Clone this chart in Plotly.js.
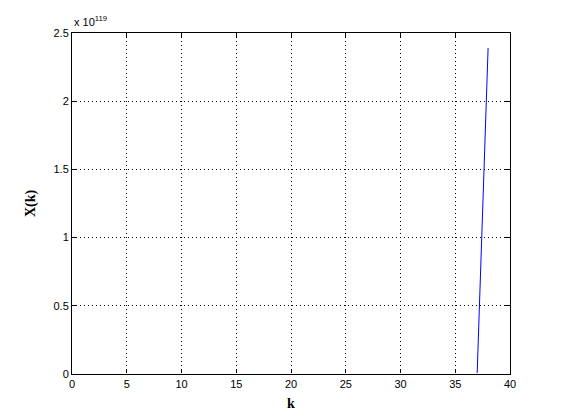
<!DOCTYPE html>
<html>
<head>
<meta charset="utf-8">
<script src="https://cdn.plot.ly/plotly-3.0.1.min.js"></script>
<style>
  html, body { margin: 0; padding: 0; background: #fff; }
  #chart { width: 561px; height: 420px; }
</style>
</head>
<body>
<div id="chart"></div>
<script>
// k index and X(k) values (everything before k=38 is ~0 at this scale)
const k = [0, 1, 2, 3, 4, 5, 6, 7, 8, 9, 10, 11, 12, 13, 14, 15, 16, 17, 18, 19,
           20, 21, 22, 23, 24, 25, 26, 27, 28, 29, 30, 31, 32, 33, 34, 35, 36, 37, 38];
const X = [0, 0, 0, 0, 0, 0, 0, 0, 0, 0, 0, 0, 0, 0, 0, 0, 0, 0, 0, 0,
           0, 0, 0, 0, 0, 0, 0, 0, 0, 0, 0, 0, 0, 0, 0, 0, 0, 0, 2.39e119];

const yTickVals = [0, 0.5e119, 1e119, 1.5e119, 2e119, 2.5e119];
const yTickText = ['0', '0.5', '1', '1.5', '2', '2.5'];
const xTickVals = [0, 5, 10, 15, 20, 25, 30, 35, 40];

const tickFont = { family: 'Liberation Sans, Arial, sans-serif', size: 11, color: '#000' };
const labelFont = { family: 'Liberation Serif, Times New Roman, serif', size: 14, color: '#000', weight: 'bold' };

const trace = {
  x: k,
  y: X,
  type: 'scatter',
  mode: 'lines',
  line: { color: '#0000ff', width: 1 },
  hoverinfo: 'x+y'
};

const axisCommon = {
  showline: true,
  linecolor: '#000',
  linewidth: 1,
  mirror: 'ticks',
  ticks: 'inside',
  ticklen: 5,
  tickcolor: '#000',
  showgrid: true,
  gridcolor: '#000',
  gridwidth: 1,
  griddash: '1px,3px',
  zeroline: false,
  tickfont: tickFont
};

const layout = {
  width: 561,
  height: 420,
  margin: { l: 72, r: 51, t: 33, b: 46 },
  paper_bgcolor: '#fff',
  plot_bgcolor: '#fff',
  showlegend: false,
  xaxis: Object.assign({}, axisCommon, {
    range: [0, 40],
    tickmode: 'array',
    tickvals: xTickVals,
    title: { text: 'k', font: labelFont, standoff: 8 }
  }),
  yaxis: Object.assign({}, axisCommon, {
    range: [0, 2.5e119],
    tickmode: 'array',
    tickvals: yTickVals,
    ticktext: yTickText,
    title: { text: 'X(k)', font: labelFont, standoff: 14 }
  }),
  // hide the zero run along the bottom edge, as the axis does in the original
  shapes: [{
    type: 'line', layer: 'above',
    xref: 'paper', yref: 'paper',
    ysizemode: 'pixel', yanchor: 0,
    x0: 0, x1: 1, y0: 0.5, y1: 0.5,
    line: { color: '#fff', width: 1 }
  }],
  annotations: [{
    xref: 'paper', yref: 'paper',
    x: 0, y: 1,
    xanchor: 'left', yanchor: 'bottom',
    yshift: 3,
    showarrow: false,
    text: 'x 10<sup>119</sup>',
    font: tickFont
  }]
};

Plotly.newPlot('chart', [trace], layout, { displayModeBar: false, staticPlot: true });
</script>
</body>
</html>
